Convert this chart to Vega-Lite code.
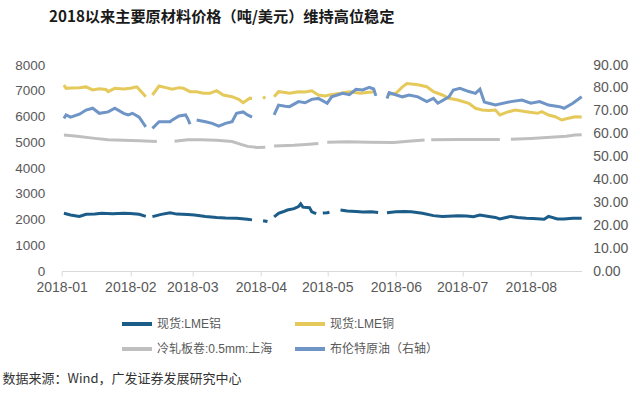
{
  "$schema": "https://vega.github.io/schema/vega-lite/v6.json",
  "width": 520,
  "height": 206,
  "autosize": {"type": "none"},
  "padding": {"left": 61.7, "top": 65, "right": 58.3, "bottom": 125},
  "background": "white",
  "config": {"view": {"stroke": null}},
  "title": {
    "text": "2018以来主要原材料价格（吨/美元）维持高位稳定",
    "anchor": "start",
    "frame": "group",
    "dx": -12.7,
    "offset": 33,
    "font": "Noto Sans CJK SC",
    "fontSize": 15.2,
    "fontWeight": "bold",
    "color": "#1a1a1a"
  },
  "data": {"values": [
    {"d":"2018-01-02","s":"现货:LME铝","v":2240},
    {"d":"2018-01-05","s":"现货:LME铝","v":2175},
    {"d":"2018-01-09","s":"现货:LME铝","v":2120},
    {"d":"2018-01-12","s":"现货:LME铝","v":2200},
    {"d":"2018-01-16","s":"现货:LME铝","v":2215},
    {"d":"2018-01-19","s":"现货:LME铝","v":2240},
    {"d":"2018-01-24","s":"现货:LME铝","v":2225},
    {"d":"2018-01-29","s":"现货:LME铝","v":2240},
    {"d":"2018-02-01","s":"现货:LME铝","v":2230},
    {"d":"2018-02-05","s":"现货:LME铝","v":2200},
    {"d":"2018-02-08","s":"现货:LME铝","v":2120},
    {"d":"2018-02-09","s":"现货:LME铝","v":null},
    {"d":"2018-02-11","s":"现货:LME铝","v":2110},
    {"d":"2018-02-15","s":"现货:LME铝","v":2200},
    {"d":"2018-02-19","s":"现货:LME铝","v":2265},
    {"d":"2018-02-22","s":"现货:LME铝","v":2210},
    {"d":"2018-02-27","s":"现货:LME铝","v":2190},
    {"d":"2018-03-02","s":"现货:LME铝","v":2175},
    {"d":"2018-03-07","s":"现货:LME铝","v":2120},
    {"d":"2018-03-12","s":"现货:LME铝","v":2080},
    {"d":"2018-03-16","s":"现货:LME铝","v":2060},
    {"d":"2018-03-21","s":"现货:LME铝","v":2045},
    {"d":"2018-03-26","s":"现货:LME铝","v":2010},
    {"d":"2018-03-28","s":"现货:LME铝","v":1985},
    {"d":"2018-03-29","s":"现货:LME铝","v":null},
    {"d":"2018-04-02","s":"现货:LME铝","v":1955},
    {"d":"2018-04-04","s":"现货:LME铝","v":1920},
    {"d":"2018-04-05","s":"现货:LME铝","v":null},
    {"d":"2018-04-07","s":"现货:LME铝","v":2100},
    {"d":"2018-04-09","s":"现货:LME铝","v":2240},
    {"d":"2018-04-11","s":"现货:LME铝","v":2300},
    {"d":"2018-04-13","s":"现货:LME铝","v":2369},
    {"d":"2018-04-16","s":"现货:LME铝","v":2420},
    {"d":"2018-04-18","s":"现货:LME铝","v":2500},
    {"d":"2018-04-19","s":"现货:LME铝","v":2610},
    {"d":"2018-04-20","s":"现货:LME铝","v":2480},
    {"d":"2018-04-23","s":"现货:LME铝","v":2460},
    {"d":"2018-04-24","s":"现货:LME铝","v":2300},
    {"d":"2018-04-26","s":"现货:LME铝","v":2230},
    {"d":"2018-04-27","s":"现货:LME铝","v":null},
    {"d":"2018-04-29","s":"现货:LME铝","v":2250},
    {"d":"2018-05-01","s":"现货:LME铝","v":2260},
    {"d":"2018-05-02","s":"现货:LME铝","v":2280},
    {"d":"2018-05-04","s":"现货:LME铝","v":null},
    {"d":"2018-05-07","s":"现货:LME铝","v":2369},
    {"d":"2018-05-10","s":"现货:LME铝","v":2330},
    {"d":"2018-05-14","s":"现货:LME铝","v":2310},
    {"d":"2018-05-17","s":"现货:LME铝","v":2290},
    {"d":"2018-05-21","s":"现货:LME铝","v":2300},
    {"d":"2018-05-24","s":"现货:LME铝","v":2270},
    {"d":"2018-05-26","s":"现货:LME铝","v":null},
    {"d":"2018-05-28","s":"现货:LME铝","v":2260},
    {"d":"2018-06-01","s":"现货:LME铝","v":2300},
    {"d":"2018-06-05","s":"现货:LME铝","v":2310},
    {"d":"2018-06-08","s":"现货:LME铝","v":2300},
    {"d":"2018-06-13","s":"现货:LME铝","v":2240},
    {"d":"2018-06-18","s":"现货:LME铝","v":2150},
    {"d":"2018-06-22","s":"现货:LME铝","v":2120},
    {"d":"2018-06-27","s":"现货:LME铝","v":2140},
    {"d":"2018-06-29","s":"现货:LME铝","v":2150},
    {"d":"2018-07-03","s":"现货:LME铝","v":2140},
    {"d":"2018-07-06","s":"现货:LME铝","v":2110},
    {"d":"2018-07-09","s":"现货:LME铝","v":2175},
    {"d":"2018-07-13","s":"现货:LME铝","v":2120},
    {"d":"2018-07-16","s":"现货:LME铝","v":2080},
    {"d":"2018-07-18","s":"现货:LME铝","v":2020},
    {"d":"2018-07-23","s":"现货:LME铝","v":2120},
    {"d":"2018-07-26","s":"现货:LME铝","v":2080},
    {"d":"2018-07-30","s":"现货:LME铝","v":2050},
    {"d":"2018-08-02","s":"现货:LME铝","v":2040},
    {"d":"2018-08-07","s":"现货:LME铝","v":2010},
    {"d":"2018-08-09","s":"现货:LME铝","v":2120},
    {"d":"2018-08-13","s":"现货:LME铝","v":2020},
    {"d":"2018-08-16","s":"现货:LME铝","v":2020},
    {"d":"2018-08-20","s":"现货:LME铝","v":2045},
    {"d":"2018-08-24","s":"现货:LME铝","v":2050},

    {"d":"2018-01-02","s":"现货:LME铜","v":7220},
    {"d":"2018-01-03","s":"现货:LME铜","v":7094},
    {"d":"2018-01-05","s":"现货:LME铜","v":7110},
    {"d":"2018-01-09","s":"现货:LME铜","v":7120},
    {"d":"2018-01-12","s":"现货:LME铜","v":7150},
    {"d":"2018-01-15","s":"现货:LME铜","v":7030},
    {"d":"2018-01-18","s":"现货:LME铜","v":7080},
    {"d":"2018-01-21","s":"现货:LME铜","v":7050},
    {"d":"2018-01-22","s":"现货:LME铜","v":6964},
    {"d":"2018-01-25","s":"现货:LME铜","v":7094},
    {"d":"2018-01-29","s":"现货:LME铜","v":7070},
    {"d":"2018-02-01","s":"现货:LME铜","v":7094},
    {"d":"2018-02-04","s":"现货:LME铜","v":7150},
    {"d":"2018-02-06","s":"现货:LME铜","v":6960},
    {"d":"2018-02-08","s":"现货:LME铜","v":6770},
    {"d":"2018-02-09","s":"现货:LME铜","v":null},
    {"d":"2018-02-11","s":"现货:LME铜","v":6835},
    {"d":"2018-02-14","s":"现货:LME铜","v":7184},
    {"d":"2018-02-17","s":"现货:LME铜","v":7120},
    {"d":"2018-02-20","s":"现货:LME铜","v":7060},
    {"d":"2018-02-23","s":"现货:LME铜","v":7120},
    {"d":"2018-02-25","s":"现货:LME铜","v":7100},
    {"d":"2018-02-28","s":"现货:LME铜","v":6964},
    {"d":"2018-03-03","s":"现货:LME铜","v":6964},
    {"d":"2018-03-06","s":"现货:LME铜","v":6900},
    {"d":"2018-03-09","s":"现货:LME铜","v":6900},
    {"d":"2018-03-12","s":"现货:LME铜","v":7003},
    {"d":"2018-03-15","s":"现货:LME铜","v":6835},
    {"d":"2018-03-19","s":"现货:LME铜","v":6770},
    {"d":"2018-03-22","s":"现货:LME铜","v":6667},
    {"d":"2018-03-24","s":"现货:LME铜","v":6537},
    {"d":"2018-03-27","s":"现货:LME铜","v":6712},
    {"d":"2018-03-28","s":"现货:LME铜","v":6700},
    {"d":"2018-03-29","s":"现货:LME铜","v":null},
    {"d":"2018-04-02","s":"现货:LME铜","v":6770},
    {"d":"2018-04-03","s":"现货:LME铜","v":6700},
    {"d":"2018-04-04","s":"现货:LME铜","v":null},
    {"d":"2018-04-07","s":"现货:LME铜","v":6770},
    {"d":"2018-04-09","s":"现货:LME铜","v":6964},
    {"d":"2018-04-12","s":"现货:LME铜","v":6930},
    {"d":"2018-04-14","s":"现货:LME铜","v":6900},
    {"d":"2018-04-18","s":"现货:LME铜","v":6964},
    {"d":"2018-04-21","s":"现货:LME铜","v":6950},
    {"d":"2018-04-24","s":"现货:LME铜","v":7000},
    {"d":"2018-04-27","s":"现货:LME铜","v":6835},
    {"d":"2018-04-30","s":"现货:LME铜","v":6800},
    {"d":"2018-05-02","s":"现货:LME铜","v":6835},
    {"d":"2018-05-07","s":"现货:LME铜","v":6900},
    {"d":"2018-05-11","s":"现货:LME铜","v":6964},
    {"d":"2018-05-16","s":"现货:LME铜","v":6900},
    {"d":"2018-05-20","s":"现货:LME铜","v":6940},
    {"d":"2018-05-23","s":"现货:LME铜","v":6964},
    {"d":"2018-05-25","s":"现货:LME铜","v":null},
    {"d":"2018-05-28","s":"现货:LME铜","v":6850},
    {"d":"2018-06-01","s":"现货:LME铜","v":6900},
    {"d":"2018-06-04","s":"现货:LME铜","v":7150},
    {"d":"2018-06-06","s":"现货:LME铜","v":7280},
    {"d":"2018-06-08","s":"现货:LME铜","v":7260},
    {"d":"2018-06-11","s":"现货:LME铜","v":7230},
    {"d":"2018-06-15","s":"现货:LME铜","v":7157},
    {"d":"2018-06-18","s":"现货:LME铜","v":6964},
    {"d":"2018-06-22","s":"现货:LME铜","v":6835},
    {"d":"2018-06-25","s":"现货:LME铜","v":6706},
    {"d":"2018-06-29","s":"现货:LME铜","v":6640},
    {"d":"2018-07-04","s":"现货:LME铜","v":6512},
    {"d":"2018-07-07","s":"现货:LME铜","v":6318},
    {"d":"2018-07-10","s":"现货:LME铜","v":6252},
    {"d":"2018-07-13","s":"现货:LME铜","v":6230},
    {"d":"2018-07-16","s":"现货:LME铜","v":6252},
    {"d":"2018-07-18","s":"现货:LME铜","v":6058},
    {"d":"2018-07-22","s":"现货:LME铜","v":6187},
    {"d":"2018-07-25","s":"现货:LME铜","v":6252},
    {"d":"2018-07-30","s":"现货:LME铜","v":6187},
    {"d":"2018-08-04","s":"现货:LME铜","v":6123},
    {"d":"2018-08-06","s":"现货:LME铜","v":6187},
    {"d":"2018-08-09","s":"现货:LME铜","v":6058},
    {"d":"2018-08-12","s":"现货:LME铜","v":5993},
    {"d":"2018-08-15","s":"现货:LME铜","v":5864},
    {"d":"2018-08-18","s":"现货:LME铜","v":5930},
    {"d":"2018-08-21","s":"现货:LME铜","v":5993},
    {"d":"2018-08-24","s":"现货:LME铜","v":5980},

    {"d":"2018-01-02","s":"冷轧板卷:0.5mm:上海","v":5280},
    {"d":"2018-01-08","s":"冷轧板卷:0.5mm:上海","v":5230},
    {"d":"2018-01-15","s":"冷轧板卷:0.5mm:上海","v":5160},
    {"d":"2018-01-22","s":"冷轧板卷:0.5mm:上海","v":5100},
    {"d":"2018-01-29","s":"冷轧板卷:0.5mm:上海","v":5080},
    {"d":"2018-02-05","s":"冷轧板卷:0.5mm:上海","v":5060},
    {"d":"2018-02-13","s":"冷轧板卷:0.5mm:上海","v":5030},
    {"d":"2018-02-14","s":"冷轧板卷:0.5mm:上海","v":null},
    {"d":"2018-02-21","s":"冷轧板卷:0.5mm:上海","v":5040},
    {"d":"2018-02-27","s":"冷轧板卷:0.5mm:上海","v":5100},
    {"d":"2018-03-05","s":"冷轧板卷:0.5mm:上海","v":5100},
    {"d":"2018-03-12","s":"冷轧板卷:0.5mm:上海","v":5080},
    {"d":"2018-03-19","s":"冷轧板卷:0.5mm:上海","v":5030},
    {"d":"2018-03-23","s":"冷轧板卷:0.5mm:上海","v":4920},
    {"d":"2018-03-26","s":"冷轧板卷:0.5mm:上海","v":4840},
    {"d":"2018-03-30","s":"冷轧板卷:0.5mm:上海","v":4800},
    {"d":"2018-04-03","s":"冷轧板卷:0.5mm:上海","v":4810},
    {"d":"2018-04-04","s":"冷轧板卷:0.5mm:上海","v":null},
    {"d":"2018-04-07","s":"冷轧板卷:0.5mm:上海","v":4850},
    {"d":"2018-04-16","s":"冷轧板卷:0.5mm:上海","v":4880},
    {"d":"2018-04-23","s":"冷轧板卷:0.5mm:上海","v":4920},
    {"d":"2018-04-27","s":"冷轧板卷:0.5mm:上海","v":4950},
    {"d":"2018-04-28","s":"冷轧板卷:0.5mm:上海","v":null},
    {"d":"2018-05-01","s":"冷轧板卷:0.5mm:上海","v":5000},
    {"d":"2018-05-10","s":"冷轧板卷:0.5mm:上海","v":5020},
    {"d":"2018-05-20","s":"冷轧板卷:0.5mm:上海","v":5000},
    {"d":"2018-05-31","s":"冷轧板卷:0.5mm:上海","v":4990},
    {"d":"2018-06-08","s":"冷轧板卷:0.5mm:上海","v":5050},
    {"d":"2018-06-14","s":"冷轧板卷:0.5mm:上海","v":5090},
    {"d":"2018-06-15","s":"冷轧板卷:0.5mm:上海","v":null},
    {"d":"2018-06-17","s":"冷轧板卷:0.5mm:上海","v":5100},
    {"d":"2018-06-29","s":"冷轧板卷:0.5mm:上海","v":5110},
    {"d":"2018-07-10","s":"冷轧板卷:0.5mm:上海","v":5110},
    {"d":"2018-07-18","s":"冷轧板卷:0.5mm:上海","v":5110},
    {"d":"2018-07-19","s":"冷轧板卷:0.5mm:上海","v":null},
    {"d":"2018-07-23","s":"冷轧板卷:0.5mm:上海","v":5120},
    {"d":"2018-08-01","s":"冷轧板卷:0.5mm:上海","v":5150},
    {"d":"2018-08-10","s":"冷轧板卷:0.5mm:上海","v":5190},
    {"d":"2018-08-17","s":"冷轧板卷:0.5mm:上海","v":5230},
    {"d":"2018-08-21","s":"冷轧板卷:0.5mm:上海","v":5280},
    {"d":"2018-08-24","s":"冷轧板卷:0.5mm:上海","v":5290},

    {"d":"2018-01-02","s":"布伦特原油（右轴）","v":66.7},
    {"d":"2018-01-03","s":"布伦特原油（右轴）","v":68.2},
    {"d":"2018-01-05","s":"布伦特原油（右轴）","v":67.2},
    {"d":"2018-01-09","s":"布伦特原油（右轴）","v":68.5},
    {"d":"2018-01-12","s":"布伦特原油（右轴）","v":70.3},
    {"d":"2018-01-15","s":"布伦特原油（右轴）","v":71.1},
    {"d":"2018-01-18","s":"布伦特原油（右轴）","v":68.9},
    {"d":"2018-01-22","s":"布伦特原油（右轴）","v":69.5},
    {"d":"2018-01-25","s":"布伦特原油（右轴）","v":71.1},
    {"d":"2018-01-29","s":"布伦特原油（右轴）","v":68.9},
    {"d":"2018-01-31","s":"布伦特原油（右轴）","v":68.2},
    {"d":"2018-02-02","s":"布伦特原油（右轴）","v":68.9},
    {"d":"2018-02-05","s":"布伦特原油（右轴）","v":67.2},
    {"d":"2018-02-08","s":"布伦特原油（右轴）","v":63.0},
    {"d":"2018-02-09","s":"布伦特原油（右轴）","v":null},
    {"d":"2018-02-11","s":"布伦特原油（右轴）","v":62.3},
    {"d":"2018-02-14","s":"布伦特原油（右轴）","v":65.2},
    {"d":"2018-02-19","s":"布伦特原油（右轴）","v":65.2},
    {"d":"2018-02-20","s":"布伦特原油（右轴）","v":66.0},
    {"d":"2018-02-23","s":"布伦特原油（右轴）","v":67.7},
    {"d":"2018-02-26","s":"布伦特原油（右轴）","v":68.2},
    {"d":"2018-02-27","s":"布伦特原油（右轴）","v":66.5},
    {"d":"2018-02-28","s":"布伦特原油（右轴）","v":64.2},
    {"d":"2018-03-01","s":"布伦特原油（右轴）","v":null},
    {"d":"2018-03-03","s":"布伦特原油（右轴）","v":66.0},
    {"d":"2018-03-07","s":"布伦特原油（右轴）","v":65.2},
    {"d":"2018-03-10","s":"布伦特原油（右轴）","v":64.5},
    {"d":"2018-03-13","s":"布伦特原油（右轴）","v":63.3},
    {"d":"2018-03-16","s":"布伦特原油（右轴）","v":64.5},
    {"d":"2018-03-19","s":"布伦特原油（右轴）","v":65.2},
    {"d":"2018-03-21","s":"布伦特原油（右轴）","v":68.9},
    {"d":"2018-03-24","s":"布伦特原油（右轴）","v":69.5},
    {"d":"2018-03-26","s":"布伦特原油（右轴）","v":68.2},
    {"d":"2018-03-28","s":"布伦特原油（右轴）","v":67.2},
    {"d":"2018-03-29","s":"布伦特原油（右轴）","v":null},
    {"d":"2018-04-07","s":"布伦特原油（右轴）","v":68.2},
    {"d":"2018-04-09","s":"布伦特原油（右轴）","v":72.5},
    {"d":"2018-04-12","s":"布伦特原油（右轴）","v":72.0},
    {"d":"2018-04-14","s":"布伦特原油（右轴）","v":71.8},
    {"d":"2018-04-18","s":"布伦特原油（右轴）","v":74.0},
    {"d":"2018-04-21","s":"布伦特原油（右轴）","v":73.5},
    {"d":"2018-04-24","s":"布伦特原油（右轴）","v":75.0},
    {"d":"2018-04-27","s":"布伦特原油（右轴）","v":75.4},
    {"d":"2018-05-01","s":"布伦特原油（右轴）","v":73.3},
    {"d":"2018-05-03","s":"布伦特原油（右轴）","v":76.1},
    {"d":"2018-05-08","s":"布伦特原油（右轴）","v":77.6},
    {"d":"2018-05-11","s":"布伦特原油（右轴）","v":77.0},
    {"d":"2018-05-14","s":"布伦特原油（右轴）","v":79.4},
    {"d":"2018-05-17","s":"布伦特原油（右轴）","v":79.1},
    {"d":"2018-05-20","s":"布伦特原油（右轴）","v":80.2},
    {"d":"2018-05-22","s":"布伦特原油（右轴）","v":79.5},
    {"d":"2018-05-23","s":"布伦特原油（右轴）","v":76.5},
    {"d":"2018-05-25","s":"布伦特原油（右轴）","v":null},
    {"d":"2018-05-28","s":"布伦特原油（右轴）","v":75.4},
    {"d":"2018-05-29","s":"布伦特原油（右轴）","v":77.9},
    {"d":"2018-06-04","s":"布伦特原油（右轴）","v":76.1},
    {"d":"2018-06-07","s":"布伦特原油（右轴）","v":76.9},
    {"d":"2018-06-11","s":"布伦特原油（右轴）","v":76.1},
    {"d":"2018-06-15","s":"布伦特原油（右轴）","v":74.0},
    {"d":"2018-06-18","s":"布伦特原油（右轴）","v":75.4},
    {"d":"2018-06-20","s":"布伦特原油（右轴）","v":73.3},
    {"d":"2018-06-25","s":"布伦特原油（右轴）","v":76.1},
    {"d":"2018-06-27","s":"布伦特原油（右轴）","v":79.1},
    {"d":"2018-06-30","s":"布伦特原油（右轴）","v":79.8},
    {"d":"2018-07-04","s":"布伦特原油（右轴）","v":78.4},
    {"d":"2018-07-07","s":"布伦特原油（右轴）","v":77.6},
    {"d":"2018-07-09","s":"布伦特原油（右轴）","v":79.4},
    {"d":"2018-07-11","s":"布伦特原油（右轴）","v":73.8},
    {"d":"2018-07-13","s":"布伦特原油（右轴）","v":73.3},
    {"d":"2018-07-16","s":"布伦特原油（右轴）","v":72.5},
    {"d":"2018-07-23","s":"布伦特原油（右轴）","v":74.0},
    {"d":"2018-07-28","s":"布伦特原油（右轴）","v":74.7},
    {"d":"2018-08-01","s":"布伦特原油（右轴）","v":73.3},
    {"d":"2018-08-05","s":"布伦特原油（右轴）","v":74.0},
    {"d":"2018-08-09","s":"布伦特原油（右轴）","v":72.5},
    {"d":"2018-08-14","s":"布伦特原油（右轴）","v":71.8},
    {"d":"2018-08-16","s":"布伦特原油（右轴）","v":71.1},
    {"d":"2018-08-20","s":"布伦特原油（右轴）","v":73.3},
    {"d":"2018-08-24","s":"布伦特原油（右轴）","v":76.1}
  ]},
  "encoding": {
    "x": {
      "field": "d",
      "type": "temporal",
      "scale": {"domain": [{"year": 2018, "month": 1, "date": 1}, {"year": 2018, "month": 8, "date": 24}], "nice": false},
      "axis": {
        "format": "%Y-%m",
        "tickCount": {"interval": "month", "step": 1},
        "labelFlush": false,
        "labelOverlap": false,
        "labelFont": "Liberation Sans",
        "labelFontSize": 14,
        "labelColor": "#595959",
        "labelPadding": 4,
        "domainColor": "#d9d9d9",
        "tickColor": "#d9d9d9",
        "tickSize": 5,
        "grid": false,
        "title": "数据来源：Wind，广发证券发展研究中心",
        "titleX": -59.7,
        "titleY": 107,
        "titleAlign": "left",
        "titleBaseline": "middle",
        "titleFont": "Noto Sans CJK SC",
        "titleFontSize": 13,
        "titleFontWeight": "normal",
        "titleColor": "#333333"
      }
    },
    "color": {
      "field": "s",
      "type": "nominal",
      "scale": {
        "domain": ["现货:LME铝", "现货:LME铜", "冷轧板卷:0.5mm:上海", "布伦特原油（右轴）"],
        "range": ["#1b5c88", "#e5c95a", "#bfbfbf", "#6f94c6"]
      },
      "legend": {
        "orient": "none",
        "legendX": 58.3,
        "legendY": 242,
        "direction": "horizontal",
        "columns": 2,
        "columnPadding": 14,
        "rowPadding": -4,
        "padding": 0,
        "title": null,
        "symbolType": "stroke",
        "symbolSize": 900,
        "symbolStrokeWidth": 4,
        "labelFont": "Liberation Sans, Noto Sans CJK SC",
        "labelFontSize": 12,
        "labelColor": "#595959",
        "labelOffset": 3
      }
    }
  },
  "layer": [
    {
      "transform": [{"filter": "datum.s !== '布伦特原油（右轴）'"}],
      "mark": {"type": "line", "strokeWidth": 3, "invalid": "break-paths-filter-domains"},
      "encoding": {
        "y": {
          "field": "v",
          "type": "quantitative",
          "scale": {"domain": [0, 8000], "nice": false},
          "axis": {
            "values": [0, 1000, 2000, 3000, 4000, 5000, 6000, 7000, 8000],
            "format": "d",
            "domain": false,
            "ticks": false,
            "grid": false,
            "labelFont": "Liberation Sans",
            "labelFontSize": 13.5,
            "labelColor": "#595959",
            "labelPadding": 17,
            "title": null
          }
        }
      }
    },
    {
      "transform": [{"filter": "datum.s === '布伦特原油（右轴）'"}],
      "mark": {"type": "line", "strokeWidth": 3, "invalid": "break-paths-filter-domains"},
      "encoding": {
        "y": {
          "field": "v",
          "type": "quantitative",
          "scale": {"domain": [0, 90], "nice": false},
          "axis": {
            "orient": "right",
            "values": [0, 10, 20, 30, 40, 50, 60, 70, 80, 90],
            "format": ".2f",
            "domain": false,
            "ticks": false,
            "grid": false,
            "labelFont": "Liberation Sans",
            "labelFontSize": 14,
            "labelColor": "#595959",
            "labelPadding": 11,
            "title": null
          }
        }
      }
    }
  ],
  "resolve": {"scale": {"y": "independent"}}
}
